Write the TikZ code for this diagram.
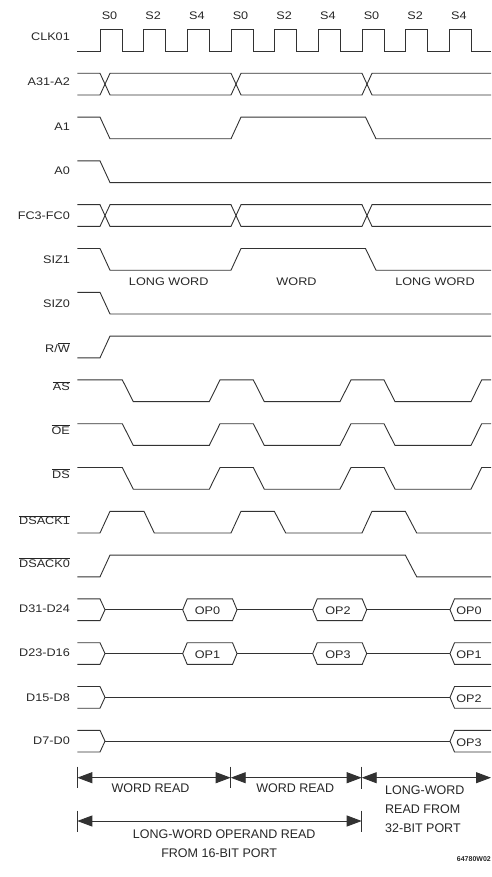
\documentclass[tikz,border=0pt]{standalone}
\usepackage{fontspec}
\setmainfont{Liberation Sans}
\newfontfamily\sigfont{Liberation Sans}[FakeStretch=1.15]
\usepackage{tikz}
\usetikzlibrary{arrows.meta}
\definecolor{traceGray}{RGB}{50,50,50}

\begin{document}
\begin{tikzpicture}[
  x=1pt, y=-1pt,
  every node/.style={text=black!85},
  sig/.style={draw=traceGray, line width=0.9pt},
  lbl/.style={anchor=base east, inner sep=0pt, font=\sigfont\fontsize{11}{13}\selectfont},
  stxt/.style={anchor=base, inner sep=0pt, font=\sigfont\fontsize{11}{13}\selectfont},
  dtxt/.style={anchor=base, inner sep=0pt, font=\fontsize{12.5}{15}\selectfont},
  dim/.style={draw=traceGray, line width=0.9pt,
              {Triangle[length=15pt,width=11pt]}-{Triangle[length=15pt,width=11pt]}},
]
\useasboundingbox (0,0) rectangle (491,877);

% state labels
\foreach \k/\s in {0/S0,1/S2,2/S4,3/S0,4/S2,5/S4,6/S0,7/S2,8/S4}
  \node[stxt] (st\k) at ({109.5+43.67*\k},20) {\s};

% CLK01
\begin{scope}[shift={(0,29.5)}]
  \node[lbl] (clk) at (70,11.5) {CLK01};
  \draw[sig] (77.3,21.7) \foreach \k in {0,...,8}{
      -- ({100+43.67*\k},21.7) -- ({100+43.67*\k},0)
      -- ({122+43.67*\k},0) -- ({122+43.67*\k},21.7)} -- (491,21.7);
\end{scope}

% A31-A2
\begin{scope}[shift={(0,73.3)}]
  \node[lbl] (addr) at (70,12.5) {A31-A2};
  \draw[sig] (77.3,0) -- (100,0) -- (110,21.7) -- (231,21.7) -- (241,0)
    -- (362,0) -- (372,21.7) -- (491,21.7);
  \draw[sig] (77.3,21.7) -- (100,21.7) -- (110,0) -- (231,0) -- (241,21.7)
    -- (362,21.7) -- (372,0) -- (491,0);
\end{scope}

% A1
\begin{scope}[shift={(0,117.1)}]
  \node[lbl] (aone) at (70,13) {A1};
  \draw[sig] (77.3,0) -- (100,0) -- (110,21.7) -- (231,21.7) -- (241,0)
    -- (365.5,0) -- (376,21.7) -- (491,21.7);
\end{scope}

% A0
\begin{scope}[shift={(0,160.9)}]
  \node[lbl] (azero) at (70,14) {A0};
  \draw[sig] (77.3,0) -- (100,0) -- (110,21.7) -- (491,21.7);
\end{scope}

% FC3-FC0
\begin{scope}[shift={(0,204.7)}]
  \node[lbl] (fcode) at (70,14.5) {FC3-FC0};
  \draw[sig] (77.3,0) -- (100,0) -- (110,21.7) -- (231,21.7) -- (241,0)
    -- (362,0) -- (372,21.7) -- (491,21.7);
  \draw[sig] (77.3,21.7) -- (100,21.7) -- (110,0) -- (231,0) -- (241,21.7)
    -- (362,21.7) -- (372,0) -- (491,0);
\end{scope}

% SIZ1
\begin{scope}[shift={(0,248.5)}]
  \node[lbl] (sizone) at (70,15) {SIZ1};
  \draw[sig] (77.3,0) -- (100,0) -- (110,21.7) -- (231,21.7) -- (241,0)
    -- (365.5,0) -- (376,21.7) -- (491,21.7);
  \node[stxt] (szlw1) at (168.7,36.5) {LONG WORD};
  \node[stxt] (szw) at (296.5,36.5) {WORD};
  \node[stxt] (szlw2) at (435,36.5) {LONG WORD};
\end{scope}

% SIZ0
\begin{scope}[shift={(0,292.3)}]
  \node[lbl] (sizzero) at (70,15.5) {SIZ0};
  \draw[sig] (77.3,0) -- (100,0) -- (110,21.7) -- (491,21.7);
\end{scope}

% R/W
\begin{scope}[shift={(0,336.1)}]
  \node[lbl] (rw) at (70,16) {R/$\overline{\mbox{W}}$};
  \draw[sig] (77.3,21.7) -- (100,21.7) -- (110,0) -- (491,0);
\end{scope}

% AS, OE, DS
\foreach \y/\n/\t in {379.9/as/AS, 423.7/oe/OE, 467.5/ds/DS}{
  \begin{scope}[shift={(0,\y)}]
    \node[lbl] (\n) at (70,11) {$\overline{\mbox{\t}}$};
    \draw[sig] (77.3,0) -- (122.3,0) -- (133.3,21.7) -- (209.3,21.7) -- (220,0)
      -- (253.3,0) -- (264.3,21.7) -- (340,21.7) -- (351,0) -- (384,0)
      -- (395,21.7) -- (471,21.7) -- (481.7,0) -- (491,0);
  \end{scope}
}

% DSACK1
\begin{scope}[shift={(0,511.3)}]
  \node[lbl] (dsackone) at (70,13.5) {$\overline{\mbox{DSACK1}}$};
  \draw[sig] (77.3,21.7) -- (100,21.7) -- (110,0) -- (144,0) -- (154.3,21.7)
    -- (231,21.7) -- (241,0) -- (274.3,0) -- (285.7,21.7) -- (362,21.7)
    -- (372,0) -- (405.3,0) -- (416.7,21.7) -- (491,21.7);
\end{scope}

% DSACK0
\begin{scope}[shift={(0,555.1)}]
  \node[lbl] (dsackzero) at (70,12.5) {$\overline{\mbox{DSACK0}}$};
  \draw[sig] (77.3,21.7) -- (100,21.7) -- (110,0) -- (405.3,0) -- (416.7,21.7)
    -- (491,21.7);
\end{scope}

% data bytes with operands on the 16-bit port
\foreach \y/\n/\t/\a/\b/\c in {598.9/dhi/D31-D24/OP0/OP2/OP0, 642.7/dmh/D23-D16/OP1/OP3/OP1}{
  \begin{scope}[shift={(0,\y)}]
    \node[lbl] (\n) at (70,13.5) {\t};
    \draw[sig] (77.3,0) -- (100,0) -- (105,10.85) -- (100,21.7) -- (77.3,21.7);
    \draw[sig] (105,10.85) -- (182.7,10.85);
    \draw[sig] (182.7,10.85) -- (187.2,0) -- (232.5,0) -- (237,10.85)
      -- (232.5,21.7) -- (187.2,21.7) -- cycle;
    \draw[sig] (237,10.85) -- (312.7,10.85);
    \draw[sig] (312.7,10.85) -- (317.2,0) -- (362.2,0) -- (366.7,10.85)
      -- (362.2,21.7) -- (317.2,21.7) -- cycle;
    \draw[sig] (366.7,10.85) -- (450,10.85);
    \draw[sig] (491,0) -- (454.5,0) -- (450,10.85) -- (454.5,21.7) -- (491,21.7);
    \node[stxt] (\n a) at (207.5,16) {\a};
    \node[stxt] (\n b) at (338,16) {\b};
    \node[stxt] (\n c) at (469,16) {\c};
  \end{scope}
}

% low bytes, used only by the 32-bit port
\foreach \y/\n/\t/\c in {686.5/dml/D15-D8/OP2, 730.3/dlo/D7-D0/OP3}{
  \begin{scope}[shift={(0,\y)}]
    \node[lbl] (\n) at (70,14.5) {\t};
    \draw[sig] (77.3,0) -- (100,0) -- (105,10.85) -- (100,21.7) -- (77.3,21.7);
    \draw[sig] (105,10.85) -- (450,10.85);
    \draw[sig] (491,0) -- (454.5,0) -- (450,10.85) -- (454.5,21.7) -- (491,21.7);
    \node[stxt] (\n c) at (469,16) {\c};
  \end{scope}
}

% cycle spans
\coordinate (w0) at (77.3,777.7);
\coordinate (w1) at (230.7,777.7);
\coordinate (w2) at (361.7,777.7);
\coordinate (w3) at (491,777.7);
\coordinate (l0) at (77.3,821);
\coordinate (l1) at (361.7,821);
\draw[sig] (77.3,766.7) -- (77.3,788.3);
\draw[sig] (230.7,766.7) -- (230.7,788.3);
\draw[sig] (361.7,766.7) -- (361.7,789.3);
\draw[sig] (77.3,810.7) -- (77.3,831.7);
\draw[sig] (361.7,810.7) -- (361.7,831.7);
\draw[dim] (w0) -- (w1);
\draw[dim] (w1) -- (w2);
\draw[dim] (w2) -- (w3);
\draw[dim] (l0) -- (l1);

\node[dtxt] (wread1) at (150.5,792.7) {WORD READ};
\node[dtxt] (wread2) at (295.2,792.7) {WORD READ};
\node[dtxt, anchor=base west] (lwread1) at (385,794) {LONG-WORD};
\node[dtxt, anchor=base west] (lwread2) at (385,813.5) {READ FROM};
\node[dtxt, anchor=base west] (lwread3) at (385,832.3) {32-BIT PORT};
\node[dtxt] (opread1) at (224.2,838.3) {LONG-WORD OPERAND READ};
\node[dtxt] (opread2) at (219.2,857.3) {FROM 16-BIT PORT};

\node[anchor=base east, inner sep=0pt, font=\bfseries\fontsize{7}{8}\selectfont]
  (figno) at (491,861) {64780W02};
\end{tikzpicture}
\end{document}
